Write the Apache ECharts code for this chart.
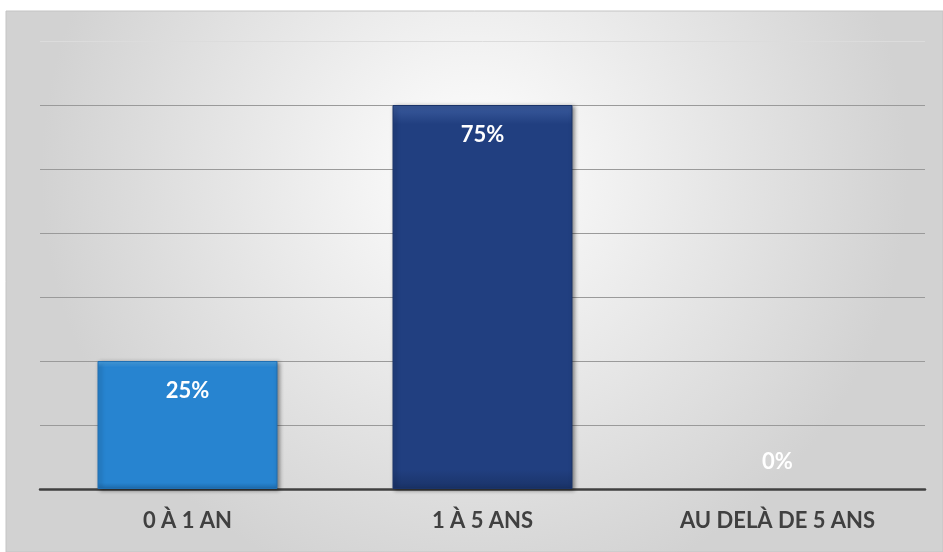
<!DOCTYPE html>
<html><head><meta charset="utf-8">
<script src="https://cdn.jsdelivr.net/npm/echarts@6/dist/echarts.min.js"></script>
<style>html,body{margin:0;padding:0;background:#fff}#c{width:943px;height:552px}</style>
</head><body><div id="c"></div>
<script>
var categories = ['0 À 1 AN', '1 À 5 ANS', 'AU DELÀ DE 5 ANS'];
var values = [0.25, 0.75, 0];
var barColors = [
  ['#4ba6ea', '#2784d0', '#1f6fb3'],
  ['#3b5c9e', '#213f80', '#1a3368']
];
var axisMax = 0.875, axisInterval = 0.125;

var chart = echarts.init(document.getElementById('c'), null, {renderer: 'canvas'});
var data = values.map(function (v, i) {
  var c = barColors[i] || barColors[0];
  var item = {
    value: v,
    itemStyle: {
      color: {type: 'linear', x: 0, y: 0, x2: 0, y2: 1, colorStops: [
        {offset: 0, color: c[0]}, {offset: 0.05, color: c[1]}, {offset: 0.95, color: c[1]}, {offset: 1, color: c[2]}]},
      borderColor: c[2], borderWidth: 1,
      shadowColor: 'rgba(0,0,0,0.45)', shadowBlur: 4, shadowOffsetX: 2, shadowOffsetY: 1
    }
  };
  if (v === 0) {
    item.itemStyle = {color: 'transparent'};
    item.label = {position: 'top', distance: 16};
  }
  return item;
});
chart.setOption({
  animation: false,
  graphic: [{
    type: 'rect', z: -10, silent: true,
    shape: {x: 6, y: 11, width: 937, height: 541},
    style: {
      fill: {type: 'radial', x: 0.5, y: 0.3, r: 0.8, colorStops: [
        {offset: 0, color: '#ffffff'}, {offset: 1, color: '#d2d2d2'}]},
      stroke: '#c4c4c4', lineWidth: 1
    }
  }],
  grid: {left: 40, right: 18, top: 41, bottom: 63},
  xAxis: {
    type: 'category', data: categories,
    axisLine: {lineStyle: {color: '#404040', width: 2.5}},
    axisTick: {show: false},
    axisLabel: {color: '#404040', fontFamily: 'Lato', fontWeight: 'bold', fontSize: 22, margin: 21}
  },
  yAxis: {
    type: 'value', min: 0, max: axisMax, interval: axisInterval,
    axisLabel: {show: false}, axisLine: {show: false}, axisTick: {show: false},
    splitLine: {lineStyle: {color: ['#9a9a9a', '#9a9a9a', '#9a9a9a', '#9a9a9a', '#9a9a9a', '#9a9a9a', '#9a9a9a', '#dcdcdc'], width: 1}}
  },
  series: [{
    type: 'bar', data: data, barWidth: '61%',
    label: {
      show: true, position: 'insideTop', distance: 19,
      color: '#ffffff', fontFamily: 'Lato', fontWeight: 'bold', fontSize: 22,
      formatter: function (p) { return Math.round(p.value * 100) + '%'; }
    }
  }]
});
</script></body></html>
